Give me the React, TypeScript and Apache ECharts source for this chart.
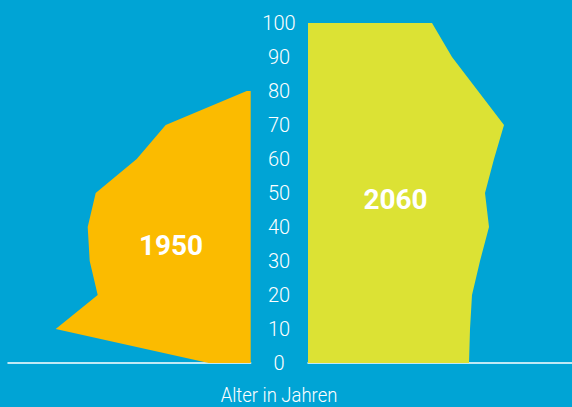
import React, { useEffect, useRef } from "react";
import * as echarts from "echarts";

const ages = ["0", "10", "20", "30", "40", "50", "60", "70", "80", "90", "100"];
const values1950: (number | null)[] = [42, 195, 153, 161, 163, 155, 114, 85, 4, null, null];
const values2060: number[] = [161, 162, 164, 172, 181, 177, 186, 196, 170, 144, 124];
const label1950 = "1950";
const label2060 = "2060";
const axisTitle = "Alter in Jahren";

const BG = "#00a4d5";
const YELLOW = "#fbbb00";
const LIME = "#dce234";

export default function App() {
  const ref = useRef<HTMLDivElement>(null);
  useEffect(() => {
    document.body.style.margin = "0";
    if (!ref.current) return;
    const chart = echarts.init(ref.current, null, { renderer: "svg" });
    const W = 572;
    const leftEdge = 250.7;
    const rightStart = 308;
    chart.setOption({
      animation: false,
      backgroundColor: BG,
      grid: [
        { left: 8, right: W - leftEdge, top: 23, bottom: 44, containLabel: false },
        { left: rightStart, right: 0, top: 23, bottom: 44, containLabel: false },
      ],
      xAxis: [
        {
          type: "value",
          gridIndex: 0,
          inverse: true,
          min: 0,
          max: leftEdge - 8,
          axisLine: { show: true, onZero: false, lineStyle: { color: "#ffffff", width: 1.5 } },
          axisTick: { show: false },
          axisLabel: { show: false },
          splitLine: { show: false },
        },
        {
          type: "value",
          gridIndex: 1,
          min: 0,
          max: W - rightStart,
          axisLine: { show: true, onZero: false, lineStyle: { color: "#ffffff", width: 1.5 } },
          axisTick: { show: false },
          axisLabel: { show: false },
          splitLine: { show: false },
        },
      ],
      yAxis: [
        {
          type: "category",
          gridIndex: 0,
          data: ages,
          boundaryGap: false,
          show: false,
        },
        {
          type: "category",
          gridIndex: 1,
          data: ages,
          boundaryGap: false,
          position: "left",
          axisLine: { show: false },
          axisTick: { show: false },
          splitLine: { show: false },
          axisLabel: {
            show: true,
            interval: 0,
            align: "center",
            margin: rightStart - 279,
            color: "#ffffff",
            fontFamily: "Roboto",
            fontWeight: 300,
            fontSize: 20,
          },
        },
      ],
      series: [
        {
          name: label1950,
          type: "line",
          xAxisIndex: 0,
          yAxisIndex: 0,
          data: values1950,
          symbol: "none",
          lineStyle: { width: 0 },
          areaStyle: { color: YELLOW, opacity: 1 },
          z: 1,
        },
        {
          name: label2060,
          type: "line",
          xAxisIndex: 1,
          yAxisIndex: 1,
          data: values2060,
          symbol: "none",
          lineStyle: { width: 0 },
          areaStyle: { color: LIME, opacity: 1 },
          z: 1,
        },
      ],
      graphic: [
        {
          type: "text",
          x: 171,
          y: 245,
          style: {
            text: label1950,
            fill: "#ffffff",
            font: "bold 28px Roboto",
            textAlign: "center",
            textVerticalAlign: "middle",
          },
          z: 10,
        },
        {
          type: "text",
          x: 395.5,
          y: 199,
          style: {
            text: label2060,
            fill: "#ffffff",
            font: "bold 28px Roboto",
            textAlign: "center",
            textVerticalAlign: "middle",
          },
          z: 10,
        },
        {
          type: "text",
          x: 279,
          y: 395,
          scaleX: 0.88,
          style: {
            text: axisTitle,
            fill: "#ffffff",
            font: "300 21px Roboto",
            textAlign: "center",
            textVerticalAlign: "middle",
          },
          z: 10,
        },
      ],
    });
    return () => chart.dispose();
  }, []);
  return <div ref={ref} style={{ width: 572, height: 407 }} />;
}
